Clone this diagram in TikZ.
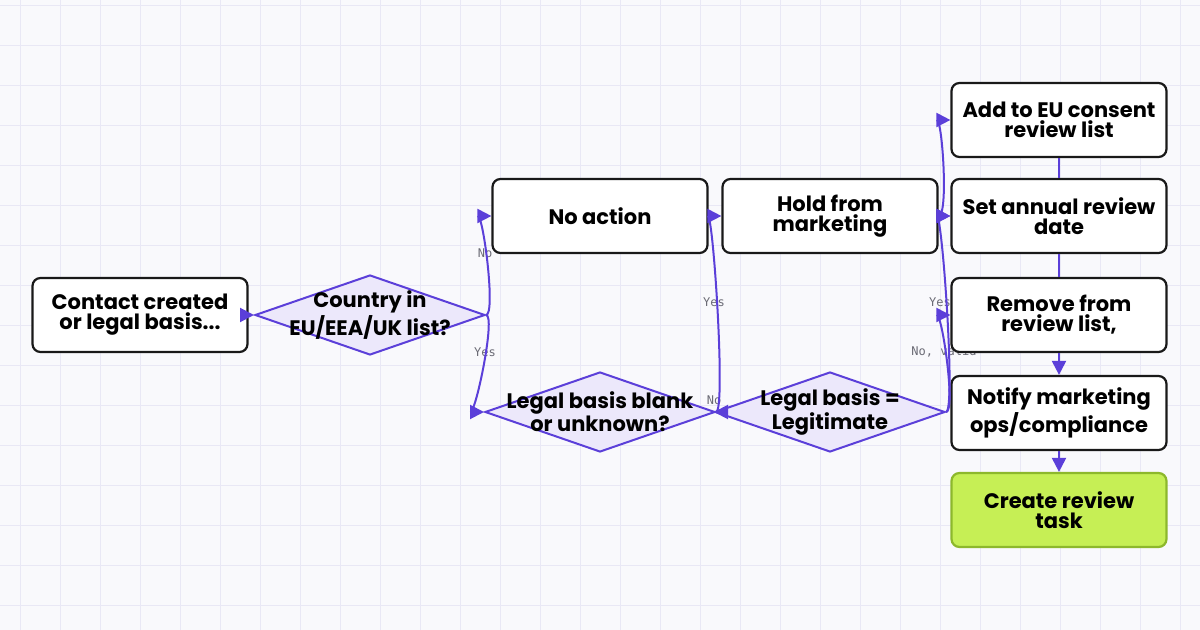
\documentclass[tikz,border=0pt]{standalone}
\usepackage{fontspec}
\setmainfont{Poppins}
\newfontfamily\monof{DejaVu Sans Mono}
\usetikzlibrary{shapes.geometric,arrows.meta}
\definecolor{edge}{HTML}{5B3FD9}
\definecolor{dfill}{HTML}{ECE8FB}
\definecolor{gridc}{HTML}{E9E8F5}
\definecolor{bg}{HTML}{F9F9FC}
\definecolor{grn}{HTML}{C6EF55}
\definecolor{grnb}{HTML}{8DB82C}
\definecolor{lbl}{HTML}{6B6B75}
\begin{document}
\begin{tikzpicture}[x=0.5pt,y=-0.5pt,
 box/.style={draw=black!90,line width=1.1pt,rounded corners=4pt,fill=white,minimum width=107.5pt,minimum height=37pt,align=center,font=\bfseries\fontsize{10.5}{10}\selectfont,inner sep=0pt},
 dia/.style={draw=edge,line width=1pt,fill=dfill,diamond,minimum width=115pt,minimum height=40pt,inner sep=0pt},
 txt/.style={align=center,font=\bfseries\fontsize{10.5}{10}\selectfont,inner sep=0pt},
 ed/.style={draw=edge,line width=1pt,-{Triangle[length=7pt,width=7pt]}},
 ln/.style={draw=edge,line width=1pt},
 el/.style={font=\monof\fontsize{6}{6}\selectfont,text=lbl,inner sep=0pt}]
\fill[bg] (0,0) rectangle (1200,630);
\useasboundingbox (0,0) rectangle (1200,630);
\foreach \x in {20,60,...,1200} \draw[gridc,line width=0.4pt] (\x,0)--(\x,630);
\foreach \y in {5,45,...,630} \draw[gridc,line width=0.4pt] (0,\y)--(1200,\y);
% labels (under boxes)
\node[el] at (485,253) {No};
\node[el] at (485,352) {Yes};
\node[el] at (714,302) {Yes};
\node[el] at (714,400) {No};
\node[el] at (940,302) {Yes};
\node[el] at (944,352) {No, valid};
% nodes
\node[box] (contact) at (140,315) {Contact created\\or legal basis...};
\node[dia] (country) at (370,315) {};
\node[txt] at (country) {Country in\\EU/EEA/UK list?};
\node[box] (noact) at (600,216) {No action};
\node[dia] (blank) at (600,412) {};
\node[txt] at (blank) {Legal basis blank\\or unknown?};
\node[box] (hold) at (830,216) {Hold from\\marketing};
\node[dia] (legit) at (830,412) {};
\node[txt] at (legit) {Legal basis =\\Legitimate};
\node[box] (add) at (1059,120) {Add to EU consent\\review list};
\node[box] (set) at (1059,216) {Set annual review\\date};
\node[box] (rem) at (1059,315) {Remove from\\review list,};
\node[box] (notify) at (1059,413) {Notify marketing\\ops/compliance};
\node[box,fill=grn,draw=grnb] (create) at (1059,510) {Create review\\task};
% edges
\draw[ed] (contact.east) -- (country.west);
\draw[ed] (country.east) .. controls +(10,0) and +(-8,0) .. (noact.west);
\draw[ed] (country.east) .. controls +(10,0) and +(-8,0) .. (blank.west);
\draw[ed] (blank.east) .. controls +(10,0) and +(-8,0) .. (hold.west);
\draw[ed] (blank.east) -- (legit.west);
\draw[ed] (hold.east) .. controls +(10,0) and +(-8,0) .. (add.west);
\draw[ed] (hold.east) -- (set.west);
\draw[ed] (legit.east) .. controls +(10,0) and +(-8,0) .. (set.west);
\draw[ed] (legit.east) .. controls +(10,0) and +(-8,0) .. (rem.west);
\draw[ln] (add.south) -- (set.north);
\draw[ln] (set.south) -- (rem.north);
\draw[ed] (rem.south) -- (notify.north);
\draw[ed] (notify.south) -- (create.north);
\end{tikzpicture}
\end{document}
